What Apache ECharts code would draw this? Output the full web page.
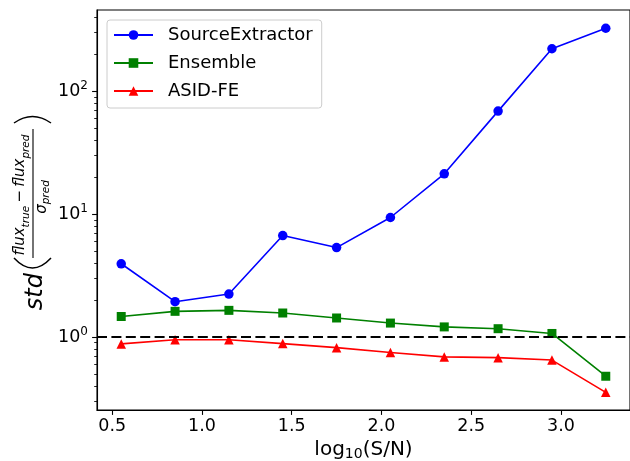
<!DOCTYPE html>
<html><head><meta charset="utf-8">
<script src="https://cdn.jsdelivr.net/npm/echarts@6/dist/echarts.min.js"></script>
<style>html,body{margin:0;padding:0;background:#fff}#c{width:630px;height:461px}</style>
</head><body><div id="c"></div>
<script>
const xValues = [0.55, 0.85, 1.15, 1.45, 1.75, 2.05, 2.35, 2.65, 2.95, 3.25];
const sourceExtractor = [3.95, 1.94, 2.24, 6.7, 5.35, 9.4, 21.3, 69, 222, 326];
const ensemble = [1.47, 1.62, 1.65, 1.57, 1.43, 1.30, 1.21, 1.17, 1.07, 0.48];
const asidFe = [0.88, 0.95, 0.95, 0.885, 0.82, 0.75, 0.69, 0.68, 0.65, 0.355];
const seriesNames = ['SourceExtractor', 'Ensemble', 'ASID-FE'];
const xTicks = [0.5, 1.0, 1.5, 2.0, 2.5, 3.0];
const yTicks = [1, 10, 100];
const yMinorTicks = [0.3,0.4,0.5,0.6,0.7,0.8,0.9,2,3,4,5,6,7,8,9,20,30,40,50,60,70,80,90,200,300,400];
const referenceLine = 1;

const FONT = 'DejaVu Sans';
const mctx = document.createElement('canvas').getContext('2d');
function tw(t, size, it) { mctx.font = (it ? 'italic ' : '') + size + 'px "' + FONT + '"'; return mctx.measureText(t).width; }
function txt(t, x, base, size, it, align) {
  return { type: 'text', x: x, y: base - 0.33 * size,
    style: { text: t, fontSize: size, fontStyle: it ? 'italic' : 'normal', fontFamily: FONT, fill: '#000', align: align || 'left', verticalAlign: 'middle' } };
}
function row(pieces, cx) {
  let total = 0;
  pieces.forEach(p => { total += (p.pl || 0) + tw(p.t, p.s, p.it) + (p.pr || 0); });
  let x = cx - total / 2; const out = [];
  pieces.forEach(p => { x += (p.pl || 0); out.push(txt(p.t, x, p.b, p.s, p.it)); x += tw(p.t, p.s, p.it) + (p.pr || 0); });
  return out;
}
const num = row([
  { t: 'flux', s: 15, it: true, b: -8 },
  { t: 'true', s: 10.5, it: true, b: -3 },
  { t: '\u2212', s: 15, it: false, b: -8, pl: 3.3, pr: 3.3 },
  { t: 'flux', s: 15, it: true, b: -8 },
  { t: 'pred', s: 10.5, it: true, b: -3 }
], 0);
const den = row([
  { t: '\u03c3', s: 15, it: true, b: 13.7 },
  { t: 'pred', s: 10.5, it: true, b: 16.5 }
], -2);
const ylabelChildren = [].concat(num, den, [
  { type: 'line', shape: { x1: -63, y1: 0, x2: 66, y2: 0 }, style: { stroke: '#000', lineWidth: 1.1 } },
  { type: 'bezierCurve', shape: { x1: -63, y1: -19, x2: -63, y2: 18, cpx1: -83, cpy1: -0.5 }, style: { stroke: '#000', lineWidth: 1.5, fill: null } },
  { type: 'bezierCurve', shape: { x1: 72, y1: -19, x2: 72, y2: 18, cpx1: 85, cpy1: -0.5 }, style: { stroke: '#000', lineWidth: 1.5, fill: null } },
  txt('std', -78, 10.5, 24, true, 'right')
]);

const pairs = arr => xValues.map((x, i) => [x, arr[i]]);
const chart = echarts.init(document.getElementById('c'), null, { renderer: 'canvas' });
const baseSeries = (name, data, color, symbol, size) => ({
  name, type: 'line', data: pairs(data), symbol, symbolSize: size,
  lineStyle: { color, width: 1.6 }, itemStyle: { color }, emphasis: { disabled: true },
  silent: true, z: 3
});
const s2 = baseSeries(seriesNames[1], ensemble, '#008000', 'rect', 9);
s2.markLine = { silent: true, symbol: ['none', 'none'], label: { show: false },
  lineStyle: { color: '#000', type: [10, 4.4], width: 2.2 }, data: [{ yAxis: referenceLine }], animation: false };
chart.setOption({
  animation: false,
  textStyle: { fontFamily: FONT },
  grid: { left: 97, right: 0, top: 10, bottom: 51, show: true, borderColor: '#000', borderWidth: 1.1,
    backgroundColor: 'transparent', outerBoundsMode: 'none', containLabel: false },
  legend: {
    orient: 'vertical', left: 107, top: 20, itemWidth: 39, itemHeight: 12, itemGap: 10,
    padding: [6, 9, 8, 6], backgroundColor: 'rgba(255,255,255,0.8)', borderColor: '#cccccc', borderWidth: 1, borderRadius: 3,
    textStyle: { fontSize: 18, fontFamily: FONT, color: '#000', padding: [0, 0, 0, 10] },
    data: seriesNames
  },
  xAxis: {
    type: 'value', min: 0.415, max: 3.385,
    splitLine: { show: false },
    axisLine: { show: true, lineStyle: { color: '#000', width: 1.1 } },
    axisTick: { show: true, length: 4.9, lineStyle: { color: '#000', width: 1.1 }, customValues: xTicks },
    axisLabel: { customValues: xTicks, formatter: v => v.toFixed(1), fontSize: 17.5, color: '#000', fontFamily: FONT, margin: 7 },
    name: 'log{sub|10}(S/N)', nameLocation: 'middle', nameGap: 28,
    nameTextStyle: { fontSize: 20, color: '#000', fontFamily: FONT, rich: { sub: { fontSize: 14, fontFamily: FONT, color: '#000', padding: [8, 0, 0, 0] } } }
  },
  yAxis: [{
    type: 'log', logBase: 10, min: 0.255, max: 459,
    splitLine: { show: false },
    axisLine: { show: true, lineStyle: { color: '#000', width: 1.1 } },
    axisTick: { show: true, length: 4.9, lineStyle: { color: '#000', width: 1.1 }, customValues: yTicks },
    axisLabel: { customValues: yTicks, margin: 9,
      formatter: v => '{b|10}{s|' + Math.round(Math.log10(v)) + '}',
      rich: { b: { fontSize: 17.5, fontFamily: FONT, color: '#000' }, s: { fontSize: 12, fontFamily: FONT, color: '#000', padding: [0, 0, 10, 0] } } }
  }, {
    type: 'log', logBase: 10, min: 0.255, max: 459, position: 'left',
    splitLine: { show: false }, axisLine: { show: false },
    axisTick: { show: true, length: 2.8, lineStyle: { color: '#000', width: 0.85 }, customValues: yMinorTicks },
    axisLabel: { show: false }
  }],
  series: [
    baseSeries(seriesNames[0], sourceExtractor, '#0000ff', 'circle', 9.5),
    s2,
    baseSeries(seriesNames[2], asidFe, '#ff0000', 'triangle', 9.5)
  ],
  graphic: [{ type: 'group', x: 33, y: 195, rotation: Math.PI / 2, children: ylabelChildren, silent: true }]
});
</script></body></html>
